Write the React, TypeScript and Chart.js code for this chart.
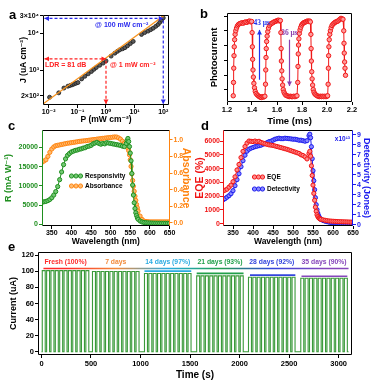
import React, { useEffect, useRef } from 'react';
import { Chart, registerables } from 'chart.js';

Chart.register(...registerables);

const SANS = '"Liberation Sans", Arial, "DejaVu Sans", sans-serif';
const SERIF = '"Liberation Serif", "Times New Roman", "DejaVu Serif", serif';
Chart.defaults.font.family = SANS;
Chart.defaults.font.weight = 'bold';
Chart.defaults.color = '#000';

// ---------------- Panel a : J vs P (log-log) ----------------
const powerDensity = [0.0107, 0.0224, 0.0339, 0.0468, 0.056, 0.066, 0.076, 0.089, 0.105, 0.141, 0.182, 0.24, 0.309, 0.38, 0.457, 0.603, 0.794, 1.0, 1.51, 2.04, 2.51, 3.02, 3.8, 4.57, 5.62, 7.08, 8.91, 17.4, 22.4, 29.5, 36.3, 44.7, 55.0, 66.1, 75.9, 87.1, 100];
const currentDensity = [182, 240, 324, 363, 380, 398, 417, 437, 457, 575, 676, 794, 912, 1047, 1175, 1349, 1549, 1778, 2399, 2884, 3236, 3548, 3802, 4074, 4571, 5248, 6026, 9333, 10470, 11480, 12590, 13800, 15490, 17380, 19950, 22910, 26300];
const fitPower = [0.0063, 158];
const fitCurrent = [119, 38370];
const markPower = [1, 100];
const markCurrent = [2018, 25400];
const aXTicks = [0.01, 0.1, 1, 10, 100];
const aXLabels = ['10⁻²', '10⁻¹', '10⁰', '10¹', '10²'];
const aYTicks = [200, 1000, 10000, 30000];
const aYLabels = ['2×10²', '10³', '10⁴', '3×10⁴'];

// ---------------- Panel b : transient photocurrent ----------------
const bTime = [1.250, 1.252, 1.254, 1.256, 1.258, 1.261, 1.265, 1.270, 1.276, 1.283, 1.291, 1.300, 1.310, 1.320, 1.330, 1.340, 1.350, 1.360, 1.370, 1.380, 1.390, 1.397,
  1.401, 1.403, 1.405, 1.408, 1.411, 1.415, 1.420, 1.426, 1.433, 1.441, 1.450, 1.458, 1.466, 1.474, 1.482, 1.490, 1.497, 1.503,
  1.508, 1.510, 1.512, 1.514, 1.517, 1.521, 1.526, 1.532, 1.540, 1.549, 1.558, 1.567, 1.576, 1.585, 1.594, 1.603, 1.612, 1.620, 1.627,
  1.631, 1.633, 1.635, 1.638, 1.641, 1.645, 1.650, 1.656, 1.663, 1.671, 1.680, 1.689, 1.698, 1.707, 1.716, 1.725, 1.734, 1.743, 1.752, 1.760,
  1.766, 1.768, 1.770, 1.772, 1.775, 1.779, 1.784, 1.790, 1.797, 1.805, 1.813, 1.821, 1.829, 1.837, 1.845, 1.853, 1.861, 1.867,
  1.871, 1.873, 1.875, 1.878, 1.881, 1.885, 1.890, 1.896, 1.903, 1.911, 1.920, 1.929, 1.938, 1.947, 1.956, 1.965, 1.974, 1.983, 1.992, 2.000, 2.005,
  2.009, 2.011, 2.013, 2.015, 2.018, 2.022, 2.027, 2.033, 2.040, 2.048, 2.056, 2.064, 2.072, 2.080, 2.088, 2.096, 2.104, 2.112, 2.120, 2.128,
  2.134, 2.136, 2.138, 2.141, 2.144, 2.148];
const bPhoto = [0.07, 0.22, 0.38, 0.52, 0.62, 0.70, 0.76, 0.80, 0.83, 0.855, 0.87, 0.88, 0.885, 0.89, 0.885, 0.895, 0.90, 0.895, 0.905, 0.91, 0.90, 0.905,
  0.78, 0.62, 0.48, 0.36, 0.28, 0.21, 0.16, 0.12, 0.095, 0.08, 0.07, 0.06, 0.055, 0.05, 0.06, 0.055, 0.06, 0.065,
  0.2, 0.36, 0.5, 0.6, 0.68, 0.74, 0.79, 0.83, 0.86, 0.875, 0.885, 0.89, 0.9, 0.905, 0.91, 0.915, 0.92, 0.91, 0.915,
  0.78, 0.6, 0.46, 0.35, 0.26, 0.19, 0.14, 0.11, 0.09, 0.075, 0.07, 0.065, 0.06, 0.065, 0.06, 0.06, 0.065, 0.06, 0.065, 0.07,
  0.22, 0.4, 0.54, 0.64, 0.71, 0.77, 0.81, 0.84, 0.865, 0.88, 0.89, 0.895, 0.9, 0.905, 0.91, 0.905, 0.91, 0.9,
  0.76, 0.6, 0.46, 0.34, 0.26, 0.19, 0.14, 0.11, 0.09, 0.08, 0.07, 0.065, 0.06, 0.065, 0.06, 0.065, 0.06, 0.065, 0.06, 0.065, 0.07,
  0.2, 0.38, 0.52, 0.62, 0.7, 0.76, 0.8, 0.835, 0.86, 0.875, 0.885, 0.895, 0.9, 0.905, 0.91, 0.92, 0.93, 0.94, 0.935, 0.93,
  0.8, 0.66, 0.55, 0.45, 0.38, 0.3];
const bXTicks = [1.2, 1.4, 1.6, 1.8, 2.0, 2.2];
const bYTicks = [0.14, 0.30, 0.47, 0.63, 0.80, 0.96];
const riseArrowT = 1.46, riseArrowFrom = 0.25, riseArrowTo = 0.81;
const fallArrowT = 1.70, fallArrowFrom = 0.70, fallArrowTo = 0.18;

// ---------------- Panels c & d : spectra ----------------
const wavelength = [325, 330, 335, 340, 345, 350, 355, 360, 365, 370, 375, 380, 385, 390, 395, 400, 405, 410, 415, 420, 425, 430, 435, 440, 445, 450, 455, 460, 465, 470, 475, 480, 485, 490, 495, 500, 505, 510, 515, 520, 525, 530, 535, 540,
  542, 544, 546, 548, 550, 552, 554, 556, 558, 560, 562, 564, 566, 568, 570,
  575, 580, 585, 590, 595, 600, 605, 610, 615, 620, 625, 630, 635, 640, 645, 650];
const responsivity = [5700, 5850, 5950, 6150, 6450, 6900, 7600, 8500, 9800, 11600, 13600, 15500, 17000, 17900, 18400, 18800, 19000, 19200, 19300, 19500, 19600, 19800, 19900, 20200, 20300, 20500, 20900, 21100, 21300, 21000, 20800, 21000, 20900, 21200, 21100, 21000, 20900, 20800, 20700, 20600, 20500, 20300, 20200, 21000,
  21800, 22300, 21500, 20200, 18500, 16500, 13200, 10200, 7600, 5600, 4100, 3000, 2300, 1700, 1300,
  850, 600, 480, 420, 380, 350, 330, 310, 300, 290, 280, 275, 270, 265, 260, 255];
const absorbance = [0.73, 0.745, 0.76, 0.80, 0.85, 0.89, 0.915, 0.93, 0.935, 0.94, 0.945, 0.95, 0.955, 0.96, 0.963, 0.967, 0.97, 0.974, 0.978, 0.982, 0.985, 0.988, 0.99, 0.993, 0.997, 1.0, 1.003, 1.006, 1.01, 1.013, 1.016, 1.019, 1.022, 1.025, 1.028, 1.03, 1.033, 1.036, 1.035, 1.025, 1.01, 0.985, 0.96, 0.935,
  0.92, 0.9, 0.87, 0.82, 0.76, 0.68, 0.59, 0.51, 0.44, 0.38, 0.32, 0.27, 0.22, 0.18, 0.14,
  0.08, 0.04, 0.02, 0.015, 0.012, 0.01, 0.01, 0.01, 0.01, 0.01, 0.01, 0.01, 0.01, 0.01, 0.01, 0.01];
const eqe = [2370, 2430, 2500, 2650, 2800, 3050, 3400, 3900, 4300, 4800, 5250, 5600, 5850, 6000, 5980, 5960, 6000, 5950, 5980, 5900, 5850, 5800, 5760, 5720, 5700, 5680, 5640, 5600, 5560, 5520, 5480, 5440, 5400, 5350, 5300, 5250, 5200, 5150, 5100, 5000, 4950, 4850, 4700, 5100,
  5250, 4900, 4200, 3500, 2800, 2200, 1700, 1200, 900, 650, 520, 430, 380, 340, 320,
  280, 250, 220, 200, 190, 180, 170, 160, 150, 145, 140, 135, 130, 125, 120, 120];
const detectivity = [2.48, 2.6, 2.75, 2.9, 3.1, 3.4, 3.9, 4.5, 5.1, 5.8, 6.4, 6.95, 7.35, 7.55, 7.65, 7.72, 7.8, 7.85, 7.9, 7.95, 8.05, 8.1, 8.2, 8.3, 8.35, 8.45, 8.55, 8.6, 8.65, 8.6, 8.6, 8.65, 8.63, 8.6, 8.58, 8.55, 8.55, 8.5, 8.45, 8.45, 8.4, 8.35, 8.4, 8.9,
  9.05, 8.7, 7.8, 6.6, 5.4, 4.4, 3.5, 2.7, 2.0, 1.5, 1.15, 0.9, 0.72, 0.6, 0.52,
  0.42, 0.35, 0.3, 0.25, 0.22, 0.2, 0.19, 0.18, 0.17, 0.16, 0.16, 0.15, 0.15, 0.14, 0.14, 0.14];
const wlTicks = [350, 400, 450, 500, 550, 600, 650];
const rTicks = [0, 5000, 10000, 15000, 20000];
const absTicks = [0, 0.2, 0.4, 0.6, 0.8, 1.0];
const eqeTicks = [0, 1000, 2000, 3000, 4000, 5000, 6000];
const detTicks = [0, 1, 2, 3, 4, 5, 6, 7, 8, 9];

// ---------------- Panel e : stability ----------------
const pulseOnTimes = [
  [8, 52, 96, 140, 184, 228, 272, 316, 360, 404, 448],
  [515, 559, 603, 647, 691, 735, 779, 823, 867, 911, 955],
  [1040, 1084, 1128, 1172, 1216, 1260, 1304, 1348, 1392, 1436, 1480],
  [1567, 1611, 1655, 1699, 1743, 1787, 1831, 1875, 1919, 1963, 2007],
  [2090, 2134, 2178, 2222, 2266, 2310, 2354, 2398, 2442, 2486, 2530],
  [2618, 2662, 2706, 2750, 2794, 2838, 2882, 2926, 2970, 3014, 3058],
];
const pulseWidth = 30;
const pulseLevel = [100.8, 99.8, 97.2, 94.3, 92.6, 91.4];
const groupLabels = ['Fresh (100%)', '7 days', '14 days (97%)', '21 days (93%)', '28 days (92%)', '35 days (90%)'];
const groupColors = ['#ff2a2a', '#f28a3a', '#29abe2', '#22a04a', '#3344dd', '#8646bb'];
const labelLevel = 111.5;
const gradLineT = [20, 3100];
const gradLineLevel = 103.5;
const barStart = [1040, 1567, 2105, 2625];
const barEnd = [1512, 2040, 2563, 3088];
const barLevel = [100.2, 97.4, 95.3, 93.8];
const barColors = ['#29abe2', '#22a04a', '#3344dd', '#8646bb'];
const eXTicks = [0, 500, 1000, 1500, 2000, 2500, 3000];
const eYTicks = [0, 20, 40, 60, 80, 100, 120];

// ---------------- helpers ----------------
const fixW = (w: number) => (s: any) => { s.width = w; s.paddingTop = 0; s.paddingBottom = 0; s.paddingLeft = 0; s.paddingRight = 0; };
const fixH = (h: number) => (s: any) => { s.height = h; s.paddingTop = 0; s.paddingBottom = 0; s.paddingLeft = 0; s.paddingRight = 0; };
const setTicks = (vals: number[]) => (s: any) => { s.ticks = vals.map((v) => ({ value: v })); };
const fnt = (size: number) => ({ family: SANS, size, weight: 'bold' as const });
const grid = (color = '#000') => ({ drawOnChartArea: false, drawTicks: true, tickLength: 3, color, lineWidth: 1 });
const pts = (xs: number[], ys: number[]) => xs.map((x, i) => ({ x, y: ys[i] }));
const plain = (v: any) => String(v);

function framePlugin(left = '#000', right = '#000', top = '#000', bottom = '#000') {
  return {
    id: 'frame',
    afterDatasetsDraw(chart: any) {
      const { ctx, chartArea: a } = chart;
      const l = Math.round(a.left) + 0.5, r = Math.round(a.right) - 0.5;
      const t = Math.round(a.top) + 0.5, b = Math.round(a.bottom) - 0.5;
      const seg = (x1: number, y1: number, x2: number, y2: number, c: string) => {
        ctx.beginPath(); ctx.strokeStyle = c; ctx.moveTo(x1, y1); ctx.lineTo(x2, y2); ctx.stroke();
      };
      ctx.save(); ctx.lineWidth = 1;
      seg(l, t, r, t, top); seg(l, b, r, b, bottom); seg(l, t, l, b, left); seg(r, t, r, b, right);
      ctx.restore();
    },
  };
}

function head(ctx: any, x: number, y: number, ang: number, size: number, color: string) {
  ctx.save(); ctx.translate(x, y); ctx.rotate(ang);
  ctx.beginPath(); ctx.moveTo(0, 0); ctx.lineTo(-size, -size * 0.55); ctx.lineTo(-size, size * 0.55); ctx.closePath();
  ctx.fillStyle = color; ctx.fill(); ctx.restore();
}
function arrow(ctx: any, x1: number, y1: number, x2: number, y2: number, color: string, dash: number[], startHead: boolean, endHead: boolean, w = 1.2) {
  ctx.save(); ctx.strokeStyle = color; ctx.lineWidth = w; ctx.setLineDash(dash);
  ctx.beginPath(); ctx.moveTo(x1, y1); ctx.lineTo(x2, y2); ctx.stroke(); ctx.setLineDash([]);
  const ang = Math.atan2(y2 - y1, x2 - x1);
  if (endHead) head(ctx, x2, y2, ang, 4.5, color);
  if (startHead) head(ctx, x1, y1, ang + Math.PI, 4.5, color);
  ctx.restore();
}
function text(ctx: any, s: string, x: number, y: number, color: string, font: string, align = 'left') {
  ctx.save(); ctx.fillStyle = color; ctx.font = font; ctx.textAlign = align; ctx.textBaseline = 'middle';
  ctx.fillText(s, x, y); ctx.restore();
}

function legendPlugin(items: { label: string; line: string; fill: string }[], x0: number, x1: number, y0: number, dy: number) {
  return {
    id: 'customLegend',
    afterDraw(chart: any) {
      const ctx = chart.ctx;
      items.forEach((it, i) => {
        const y = y0 + i * dy;
        ctx.save(); ctx.strokeStyle = it.line; ctx.lineWidth = 1.2;
        ctx.beginPath(); ctx.moveTo(x0, y); ctx.lineTo(x1, y); ctx.stroke();
        [x0 + 1.5, (x0 + x1) / 2, x1 - 1.5].forEach((cx) => {
          ctx.beginPath(); ctx.arc(cx, y, 2.1, 0, Math.PI * 2); ctx.fillStyle = it.fill; ctx.fill(); ctx.lineWidth = 1; ctx.stroke();
        });
        ctx.restore();
        text(ctx, it.label, x1 + 3, y, '#000', `bold 6.5px ${SANS}`);
      });
    },
  };
}

const base = (pad: any) => ({
  responsive: false,
  animation: false as const,
  devicePixelRatio: 1,
  layout: { autoPadding: false, padding: pad },
  plugins: { legend: { display: false }, tooltip: { enabled: false } },
});

// ---------------- chart configs ----------------
function configA(): any {
  return {
    type: 'scatter',
    data: {
      datasets: [
        { data: pts(fitPower, fitCurrent), showLine: true, borderColor: '#f7931e', borderWidth: 1.3, pointRadius: 0 },
        { data: pts(powerDensity, currentDensity), showLine: false, pointRadius: 2, pointBackgroundColor: '#5a5a5a', pointBorderColor: '#1a1a1a', pointBorderWidth: 0.8 },
      ],
    },
    options: {
      ...base({ top: 15, right: 11, left: 0, bottom: 0 }),
      scales: {
        x: {
          type: 'logarithmic', min: 0.00631, max: 158.5,
          afterBuildTicks: setTicks(aXTicks), afterFit: fixH(23),
          ticks: { font: fnt(7), color: '#000', padding: 0, autoSkip: false, maxRotation: 0, callback: (_v: any, i: number) => aXLabels[i] },
          grid: grid(), border: { display: false },
          title: { display: true, text: 'P (mW cm⁻²)', color: '#000', font: fnt(8.5), padding: { top: 0, bottom: 3 } },
        },
        y: {
          type: 'logarithmic', min: 112, max: 31500,
          afterBuildTicks: setTicks(aYTicks), afterFit: fixW(43),
          ticks: { font: fnt(7), color: '#000', padding: 1, autoSkip: false, callback: (_v: any, i: number) => aYLabels[i] },
          grid: grid(), border: { display: false },
          title: { display: true, text: 'J (uA cm⁻²)', color: '#000', font: fnt(8.5), padding: { top: 19, bottom: 0 } },
        },
      },
    },
    plugins: [
      framePlugin(),
      {
        id: 'ldrMarks',
        afterDatasetsDraw(chart: any) {
          const { ctx, chartArea: a, scales: { x, y } } = chart;
          const red = '#ff2020', blue = '#2a2aee';
          const px1 = x.getPixelForValue(markPower[0]), py1 = y.getPixelForValue(markCurrent[0]);
          const px2 = x.getPixelForValue(markPower[1]), py2 = y.getPixelForValue(markCurrent[1]);
          arrow(ctx, a.left + 1.5, py1, px1, py1, red, [3, 2], true, true);
          arrow(ctx, px1, py1 + 2, px1, a.bottom - 1, red, [3, 2], false, true);
          arrow(ctx, a.left + 1.5, py2, px2, py2, blue, [3, 2], true, true);
          arrow(ctx, px2, py2 + 2, px2, a.bottom - 1, blue, [3, 2], false, true);
          text(ctx, 'LDR = 81 dB', x.getPixelForValue(0.0074), y.getPixelForValue(1365), red, `bold 7px ${SANS}`);
          text(ctx, '@ 1 mW cm⁻²', x.getPixelForValue(1.39), y.getPixelForValue(1365), red, `bold 7px ${SANS}`);
          text(ctx, '@ 100 mW cm⁻²', x.getPixelForValue(0.417), y.getPixelForValue(16400), blue, `bold 7px ${SANS}`);
        },
      },
    ],
  };
}

function configB(): any {
  return {
    type: 'scatter',
    data: {
      datasets: [
        { data: pts(bTime, bPhoto), showLine: true, borderColor: '#f01818', borderWidth: 1, pointRadius: 2.2, pointBackgroundColor: '#ff9a9a', pointBorderColor: '#f01818', pointBorderWidth: 1 },
      ],
    },
    options: {
      ...base({ top: 13, right: 20, left: 0, bottom: 0 }),
      scales: {
        x: {
          type: 'linear', min: 1.2, max: 2.2,
          afterBuildTicks: setTicks(bXTicks), afterFit: fixH(26),
          ticks: { font: fnt(7.5), color: '#000', padding: 0, autoSkip: false, maxRotation: 0, callback: (v: any) => Number(v).toFixed(1) },
          grid: grid(), border: { display: false },
          title: { display: true, text: 'Time (ms)', color: '#000', font: fnt(9.5), padding: { top: 0, bottom: 1 } },
        },
        y: {
          type: 'linear', min: 0, max: 1,
          afterBuildTicks: setTicks(bYTicks), afterFit: fixW(41),
          ticks: { display: true, callback: () => '' },
          grid: grid(), border: { display: false },
          title: { display: true, text: 'Photocurrent', color: '#000', font: fnt(9.5), padding: { top: 23, bottom: 0 } },
        },
      },
    },
    plugins: [
      framePlugin(),
      {
        id: 'respArrows',
        afterDatasetsDraw(chart: any) {
          const { ctx, scales: { x, y } } = chart;
          const blue = '#2233ee', purple = '#8a3fb0';
          const xb = x.getPixelForValue(riseArrowT), xp = x.getPixelForValue(fallArrowT);
          arrow(ctx, xb, y.getPixelForValue(riseArrowFrom), xb, y.getPixelForValue(riseArrowTo), blue, [], false, true, 1.2);
          arrow(ctx, xp, y.getPixelForValue(fallArrowFrom), xp, y.getPixelForValue(fallArrowTo), purple, [], false, true, 1.2);
          text(ctx, '43 μs', x.getPixelForValue(1.478), y.getPixelForValue(0.89), blue, `bold 7.5px ${SERIF}`, 'center');
          text(ctx, '36 μs', x.getPixelForValue(1.70), y.getPixelForValue(0.776), purple, `bold 7.5px ${SERIF}`, 'center');
        },
      },
    ],
  };
}

function configC(): any {
  return {
    type: 'scatter',
    data: {
      datasets: [
        { data: pts(wavelength, responsivity), yAxisID: 'y', showLine: true, borderColor: '#1f8f1f', borderWidth: 1, pointRadius: 2.1, pointBackgroundColor: '#74c874', pointBorderColor: '#1f8f1f', pointBorderWidth: 1 },
        { data: pts(wavelength, absorbance), yAxisID: 'y1', showLine: true, borderColor: '#ff8410', borderWidth: 1, pointRadius: 2.1, pointBackgroundColor: '#ffbb70', pointBorderColor: '#ff8410', pointBorderWidth: 1 },
      ],
    },
    options: {
      ...base({ top: 4, right: 0, left: 0, bottom: 0 }),
      scales: {
        x: {
          type: 'linear', min: 325, max: 650,
          afterBuildTicks: setTicks(wlTicks), afterFit: fixH(24),
          ticks: { font: fnt(7), color: '#000', padding: 0, autoSkip: false, maxRotation: 0, callback: plain },
          grid: grid(), border: { display: false },
          title: { display: true, text: 'Wavelength (nm)', color: '#000', font: fnt(8.5), padding: { top: 0, bottom: 3 } },
        },
        y: {
          type: 'linear', position: 'left', min: -440, max: 24500,
          afterBuildTicks: setTicks(rTicks), afterFit: fixW(42),
          ticks: { font: fnt(7), color: '#1f8f1f', padding: 1, autoSkip: false, callback: plain },
          grid: grid('#1f8f1f'), border: { display: false },
          title: { display: true, text: 'R (mA W⁻¹)', color: '#1f8f1f', font: fnt(9), padding: { top: 3, bottom: 0 } },
        },
        y1: {
          type: 'linear', position: 'right', min: -0.04, max: 1.12,
          afterBuildTicks: setTicks(absTicks), afterFit: fixW(24.5),
          ticks: { font: fnt(7), color: '#ff8410', padding: 1, autoSkip: false, callback: (v: any) => Number(v).toFixed(1) },
          grid: grid('#ff8410'), border: { display: false },
          title: { display: true, text: 'Absorbance', color: '#ff8410', font: fnt(10.5), padding: { top: 1.5, bottom: 0 } },
        },
      },
    },
    plugins: [
      framePlugin('#1f8f1f', '#ff8410'),
      legendPlugin([
        { label: 'Responsivity', line: '#1f8f1f', fill: '#74c874' },
        { label: 'Absorbance', line: '#ff8410', fill: '#ffbb70' },
      ], 70, 82, 50, 10),
    ],
  };
}

function configD(): any {
  return {
    type: 'scatter',
    data: {
      datasets: [
        { data: pts(wavelength, eqe), yAxisID: 'y', showLine: true, borderColor: '#f01414', borderWidth: 1, pointRadius: 2.1, pointBackgroundColor: '#ff8a8a', pointBorderColor: '#f01414', pointBorderWidth: 1 },
        { data: pts(wavelength, detectivity), yAxisID: 'y1', showLine: true, borderColor: '#1a1aee', borderWidth: 1, pointRadius: 2.1, pointBackgroundColor: '#8a8aff', pointBorderColor: '#1a1aee', pointBorderWidth: 1 },
      ],
    },
    options: {
      ...base({ top: 4, right: 0, left: 0, bottom: 0 }),
      scales: {
        x: {
          type: 'linear', min: 325, max: 650,
          afterBuildTicks: setTicks(wlTicks), afterFit: fixH(24),
          ticks: { font: fnt(7), color: '#000', padding: 0, autoSkip: false, maxRotation: 0, callback: plain },
          grid: grid(), border: { display: false },
          title: { display: true, text: 'Wavelength (nm)', color: '#000', font: fnt(8.5), padding: { top: 0, bottom: 3 } },
        },
        y: {
          type: 'linear', position: 'left', min: -167, max: 6800,
          afterBuildTicks: setTicks(eqeTicks), afterFit: fixW(31),
          ticks: { font: fnt(7), color: '#f01414', padding: 0, autoSkip: false, callback: plain },
          grid: grid('#f01414'), border: { display: false },
          title: { display: true, text: 'EQE (%)', color: '#f01414', font: fnt(10.5), padding: { top: 1.5, bottom: 0 } },
        },
        y1: {
          type: 'linear', position: 'right', min: -0.13, max: 9.47,
          afterBuildTicks: setTicks(detTicks), afterFit: fixW(19),
          ticks: { font: fnt(7), color: '#1a1aee', padding: 1, autoSkip: false, callback: plain },
          grid: grid('#1a1aee'), border: { display: false },
          title: { display: true, text: 'Detectivity (Jones)', color: '#1a1aee', font: fnt(9), padding: { top: 0, bottom: 0 } },
        },
      },
    },
    plugins: [
      framePlugin('#f01414', '#1a1aee'),
      legendPlugin([
        { label: 'EQE', line: '#f01414', fill: '#ff8a8a' },
        { label: 'Detectivity', line: '#1a1aee', fill: '#8a8aff' },
      ], 61, 72, 51, 12),
      {
        id: 'exp',
        afterDraw(chart: any) {
          const a = chart.chartArea;
          text(chart.ctx, 'x10¹³', a.right - 3, a.top + 9, '#1a1aee', `bold 6.5px ${SANS}`, 'right');
        },
      },
    ],
  };
}

function squareWave() {
  const out: { x: number; y: number }[] = [{ x: 0, y: 0 }];
  pulseOnTimes.forEach((grp, g) => {
    grp.forEach((t) => {
      out.push({ x: t, y: 0 }, { x: t, y: pulseLevel[g] }, { x: t + pulseWidth, y: pulseLevel[g] }, { x: t + pulseWidth, y: 0 });
    });
  });
  out.push({ x: 3100, y: 0 });
  return out;
}
const groupCenters = pulseOnTimes.map((g) => (g[0] + g[g.length - 1] + pulseWidth) / 2);

function configE(): any {
  const bars = barStart.map((s, i) => ({
    data: [{ x: s, y: barLevel[i] }, { x: barEnd[i], y: barLevel[i] }], showLine: true, borderColor: barColors[i], borderWidth: 1.6, pointRadius: 0,
  }));
  return {
    type: 'scatter',
    data: {
      datasets: [
        {
          data: [{ x: gradLineT[0], y: gradLineLevel }, { x: gradLineT[1], y: gradLineLevel }], showLine: true, borderWidth: 1.6, pointRadius: 0,
          borderColor: (c: any) => {
            const chart = c.chart;
            if (!chart.chartArea) return groupColors[0];
            const xs = chart.scales.x;
            const x0 = xs.getPixelForValue(gradLineT[0]), x1 = xs.getPixelForValue(gradLineT[1]);
            const g = chart.ctx.createLinearGradient(x0, 0, x1, 0);
            const span = gradLineT[1] - gradLineT[0];
            groupCenters.forEach((tc, i) => g.addColorStop(Math.min(1, Math.max(0, (tc - gradLineT[0]) / span)), groupColors[i]));
            return g;
          },
        },
        ...bars,
        { data: squareWave(), showLine: true, borderColor: '#3a9a3a', borderWidth: 1.1, pointRadius: 0, stepped: false },
      ],
    },
    options: {
      ...base({ top: 2, right: 20, left: 0, bottom: 0 }),
      scales: {
        x: {
          type: 'linear', min: -35, max: 3135,
          afterBuildTicks: setTicks(eXTicks), afterFit: fixH(29),
          ticks: { font: fnt(7.5), color: '#000', padding: 1, autoSkip: false, maxRotation: 0, callback: plain },
          grid: grid(), border: { display: false },
          title: { display: true, text: 'Time (s)', color: '#000', font: fnt(10), padding: { top: 0, bottom: 3 } },
        },
        y: {
          type: 'linear', min: -4, max: 124,
          afterBuildTicks: setTicks(eYTicks), afterFit: fixW(38),
          ticks: { font: fnt(7.5), color: '#000', padding: 1, autoSkip: false, callback: plain },
          grid: grid(), border: { display: false },
          title: { display: true, text: 'Current (uA)', color: '#000', font: fnt(9), padding: { top: 8, bottom: 0 } },
        },
      },
    },
    plugins: [
      framePlugin(),
      {
        id: 'groupLabels',
        afterDatasetsDraw(chart: any) {
          const { ctx, scales: { x, y } } = chart;
          groupLabels.forEach((s, i) => text(ctx, s, x.getPixelForValue(groupCenters[i]), y.getPixelForValue(labelLevel), groupColors[i], `bold 6.8px ${SANS}`, 'center'));
        },
      },
    ],
  };
}

function ChartBox({ left, top, width, height, make }: { left: number; top: number; width: number; height: number; make: () => any }) {
  const ref = useRef<HTMLCanvasElement>(null);
  useEffect(() => {
    const chart = new Chart(ref.current as HTMLCanvasElement, make());
    return () => chart.destroy();
  }, []);
  return <canvas ref={ref} width={width} height={height} style={{ position: 'absolute', left, top, width, height, display: 'block' }} />;
}

const letterStyle = (left: number, top: number): React.CSSProperties => ({
  position: 'absolute', left, top, font: `bold 13px ${SANS}`, lineHeight: '13px', color: '#000',
});

export default function App() {
  return (
    <div style={{ position: 'absolute', left: 0, top: 0, width: 372, height: 384, background: '#fff', overflow: 'hidden' }}>
      <ChartBox left={0} top={0} width={180} height={128} make={configA} />
      <ChartBox left={186} top={0} width={186} height={128} make={configB} />
      <ChartBox left={0} top={126} width={194} height={124} make={configC} />
      <ChartBox left={192} top={126} width={180} height={124} make={configD} />
      <ChartBox left={0} top={250} width={372} height={134} make={configE} />
      <div style={letterStyle(9, 8)}>a</div>
      <div style={letterStyle(200, 7)}>b</div>
      <div style={letterStyle(8, 119)}>c</div>
      <div style={letterStyle(201, 119)}>d</div>
      <div style={letterStyle(8, 240)}>e</div>
    </div>
  );
}
